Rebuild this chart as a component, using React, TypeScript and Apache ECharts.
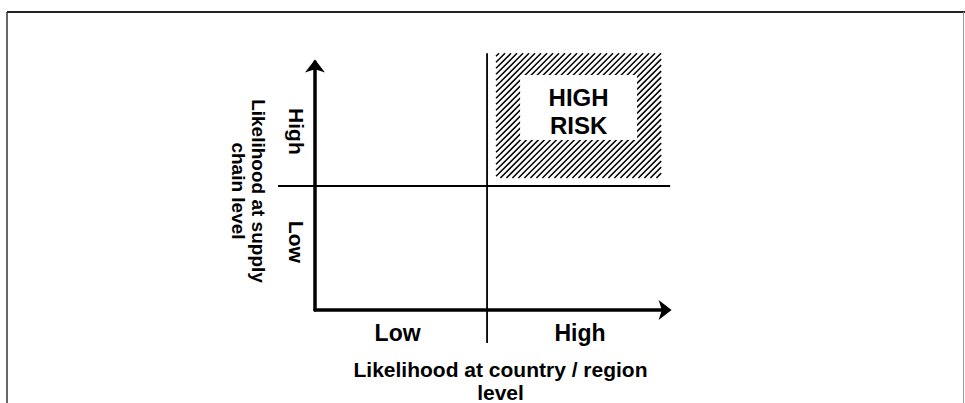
import React, { useEffect, useRef } from 'react';
import * as echarts from 'echarts';

// ---- data ----
const xCategories = ['Low', 'High'];
const yCategories = ['Low', 'High'];
const xLabelValues = [0.48, 1.54];
const yLabelValues = [0.55, 1.44];
const xAxisTitle = 'Likelihood at country / region\nlevel';
const yAxisTitle = 'Likelihood at supply\nchain level';
const riskText = ['HIGH', 'RISK'];
const quadrantSplit = [1, 1];
const hSplitSpanX = [-0.215, 2.064];
const vSplitSpanY = [-0.266, 2.07];
const riskZoneX = [1.052, 2.012];
const riskZoneY = [1.065, 2.07];
const riskBoxX = [1.192, 1.872];
const riskBoxY = [1.371, 1.895];

const FONT = 'Liberation Sans, Arial, Helvetica, sans-serif';

export default function App() {
  const ref = useRef<HTMLDivElement>(null);

  useEffect(() => {
    document.body.style.margin = '0';
    const chart = echarts.init(ref.current as HTMLDivElement, null, { renderer: 'svg' });

    const option: any = {
      animation: false,
      backgroundColor: '#fff',
      grid: { left: 315, top: 62, width: 351, height: 248, containLabel: false, outerBoundsMode: 'none' },
      xAxis: {
        type: 'value',
        min: 0,
        max: 2.04,
        axisLine: {
          show: true,
          lineStyle: { color: '#000', width: 3.5 },
          symbol: ['none', 'arrow'],
          symbolSize: [15, 13],
          symbolOffset: [0, 5.6],
        },
        axisTick: { show: false },
        splitLine: { show: false },
        axisLabel: {
          customValues: xLabelValues,
          formatter: (v: number) => (v < quadrantSplit[0] ? xCategories[0] : xCategories[1]),
          color: '#000',
          fontSize: 23,
          fontWeight: 'bold',
          fontFamily: FONT,
          margin: 11,
        },
        name: xAxisTitle,
        nameLocation: 'middle',
        nameGap: 48,
        nameTextStyle: {
          color: '#000',
          fontSize: 21,
          fontWeight: 'bold',
          fontFamily: FONT,
          lineHeight: 23,
          padding: [0, 0, 0, 20],
        },
      },
      yAxis: {
        type: 'value',
        min: 0,
        max: 2,
        axisLine: {
          show: true,
          lineStyle: { color: '#000', width: 3.5 },
          symbol: ['none', 'arrow'],
          symbolSize: [15, 13],
          symbolOffset: [0, 2.5],
        },
        axisTick: { show: false },
        splitLine: { show: false },
        axisLabel: {
          customValues: yLabelValues,
          formatter: (v: number) => (v < quadrantSplit[1] ? yCategories[0] : yCategories[1]),
          rotate: -90,
          color: '#000',
          fontSize: 21,
          fontWeight: 'bold',
          fontFamily: FONT,
          margin: 8,
        },
        name: yAxisTitle,
        nameLocation: 'middle',
        nameRotate: -90,
        nameGap: 47,
        nameTextStyle: {
          color: '#000',
          fontSize: 19,
          fontWeight: 'bold',
          fontFamily: FONT,
          lineHeight: 20,
          padding: [0, 0, 0, 10],
        },
      },
      graphic: [
        { type: 'line', shape: { x1: 7, y1: 12, x2: 965, y2: 12 }, style: { stroke: '#222', lineWidth: 2 } },
        { type: 'line', shape: { x1: 7, y1: 12, x2: 7, y2: 403 }, style: { stroke: '#333', lineWidth: 1.5 } },
        { type: 'line', shape: { x1: 963.5, y1: 12, x2: 963.5, y2: 403 }, style: { stroke: '#999', lineWidth: 1 } },
      ],
      series: [
        {
          type: 'custom',
          clip: false,
          silent: true,
          data: [[riskZoneX[0], riskZoneY[0]]],
          renderItem: (params: any, api: any) => {
            const children: any[] = [];
            const h0 = api.coord([hSplitSpanX[0], quadrantSplit[1]]);
            const h1 = api.coord([hSplitSpanX[1], quadrantSplit[1]]);
            children.push({
              type: 'line',
              shape: { x1: h0[0], y1: h0[1], x2: h1[0], y2: h1[1] },
              style: { stroke: '#000', lineWidth: 1.8 },
            });
            const v0 = api.coord([quadrantSplit[0], vSplitSpanY[0]]);
            const v1 = api.coord([quadrantSplit[0], vSplitSpanY[1]]);
            children.push({
              type: 'line',
              shape: { x1: v0[0], y1: v0[1], x2: v1[0], y2: v1[1] },
              style: { stroke: '#000', lineWidth: 1.8 },
            });

            const zA = api.coord([riskZoneX[0], riskZoneY[0]]);
            const zB = api.coord([riskZoneX[1], riskZoneY[1]]);
            const left = Math.min(zA[0], zB[0]);
            const right = Math.max(zA[0], zB[0]);
            const top = Math.min(zA[1], zB[1]);
            const bottom = Math.max(zA[1], zB[1]);
            for (let c = left + top + 3; c < right + bottom; c += 6) {
              const xa = Math.max(left, c - bottom);
              const xb = Math.min(right, c - top);
              if (xb > xa) {
                children.push({
                  type: 'line',
                  shape: { x1: xa, y1: c - xa, x2: xb, y2: c - xb },
                  style: { stroke: '#000', lineWidth: 1.5 },
                });
              }
            }
            const bA = api.coord([riskBoxX[0], riskBoxY[0]]);
            const bB = api.coord([riskBoxX[1], riskBoxY[1]]);
            const bl = Math.min(bA[0], bB[0]);
            const br = Math.max(bA[0], bB[0]);
            const bt = Math.min(bA[1], bB[1]);
            const bb = Math.max(bA[1], bB[1]);
            children.push({
              type: 'rect',
              shape: { x: bl, y: bt, width: br - bl, height: bb - bt },
              style: { fill: '#fff', stroke: 'none' },
            });
            const cx = (bl + br) / 2;
            const cy = (bt + bb) / 2 + 4;
            riskText.forEach((t, i) => {
              children.push({
                type: 'text',
                x: cx,
                y: cy + (i - 0.5) * 28,
                style: {
                  text: t,
                  fill: '#000',
                  fontSize: 24,
                  fontWeight: 'bold',
                  fontFamily: FONT,
                  align: 'center',
                  verticalAlign: 'middle',
                },
              });
            });
            return { type: 'group', children };
          },
        },
      ],
    };

    chart.setOption(option);
    return () => chart.dispose();
  }, []);

  return (
    <div
      ref={ref}
      style={{ position: 'fixed', left: 0, top: 0, width: 965, height: 403 }}
    />
  );
}
